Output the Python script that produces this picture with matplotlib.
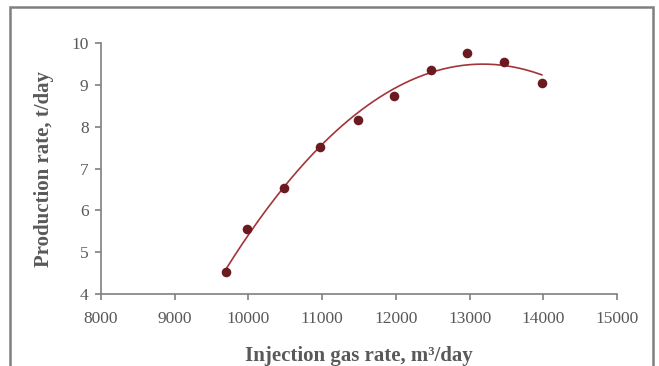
import numpy as np #number functions
import matplotlib
matplotlib.use('Agg')
import matplotlib.pyplot as plt #plotting functions
from matplotlib.patches import Rectangle

# data
gas_rate = [9700, 9980, 10480, 10970, 11480, 11970, 12470, 12960, 13470, 13980]
production = [4.53, 5.55, 6.54, 7.52, 8.15, 8.73, 9.36, 9.77, 9.55, 9.05]
x_ticks = [8000, 9000, 10000, 11000, 12000, 13000, 14000, 15000]
y_ticks = [4, 5, 6, 7, 8, 9, 10]

plt.rcParams['font.family'] = ['Liberation Serif', 'DejaVu Serif']

fig = plt.figure(figsize=(6.59, 3.66), dpi=100)
ax = fig.add_axes([0.1533, 0.1967, 0.783, 0.6858])

# second order trend line like the spreadsheet one
coef = np.polyfit(gas_rate, production, 2)
xs = np.linspace(min(gas_rate), max(gas_rate), 200)
ax.plot(xs, np.polyval(coef, xs), color='#a33538', lw=1.2, zorder=2)
ax.scatter(gas_rate, production, s=48, color='#6b1b1f', zorder=3, linewidths=0)

ax.set_xlim(8000, 15000)
ax.set_ylim(4, 10)
ax.set_xticks(x_ticks)
ax.set_yticks(y_ticks)
for s in ['top', 'right']:
    ax.spines[s].set_visible(False)
for s in ['left', 'bottom']:
    ax.spines[s].set_color('#7f7f7f')
    ax.spines[s].set_linewidth(1.2)
ax.tick_params(axis='both', colors='#7f7f7f', labelcolor='#595959', labelsize=12.5,
               length=4, width=1.2, direction='out')
ax.tick_params(axis='x', pad=8)
ax.tick_params(axis='y', pad=5)

ax.set_xlabel('Injection gas rate, m³/day', fontsize=15, fontweight='bold', color='#595959', labelpad=14)
ax.set_ylabel('Production rate, t/day', fontsize=15, fontweight='bold', color='#595959', labelpad=12)

# gray frame around the whole chart (bottom edge falls off the image)
fig.patches.append(Rectangle((10/659, -0.05), 643/659, 1 - 7/366 + 0.05, transform=fig.transFigure,
                             fill=False, edgecolor='#7f7f7f', lw=1.8))

plt.savefig('out.png', dpi=100)
